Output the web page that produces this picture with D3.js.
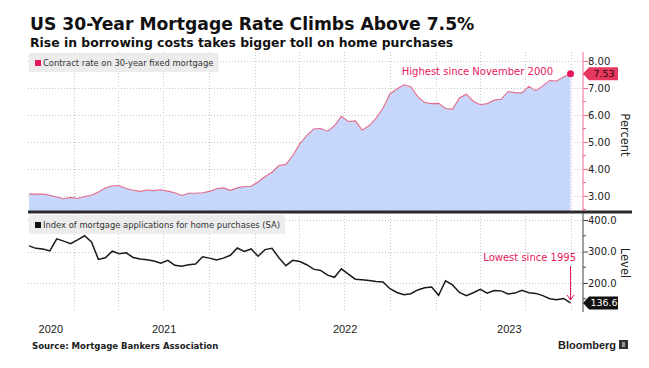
<!DOCTYPE html>
<html><head><meta charset="utf-8">
<script src="https://cdn.jsdelivr.net/npm/d3@7"></script>
<style>body{margin:0;background:#fff}svg{display:block}</style>
</head><body>
<svg id="c" width="649" height="368"></svg>
<script>
// ---- data (biweekly, Oct 2020 – Sep 2023) ----
const startDate = "2020-10-03";
const rateValues = [3.07,3.07,3.07,3.03,2.96,2.90,2.95,2.91,2.98,3.03,
  3.15,3.30,3.38,3.38,3.28,3.21,3.17,3.22,3.20,3.23,
  3.18,3.12,3.02,3.10,3.10,3.12,3.17,3.27,3.30,3.21,
  3.30,3.35,3.36,3.52,3.72,3.88,4.13,4.17,4.50,4.93,
  5.24,5.48,5.50,5.40,5.60,5.95,5.76,5.78,5.44,5.60,
  5.88,6.26,6.78,6.96,7.12,7.05,6.68,6.46,6.42,6.43,
  6.24,6.21,6.63,6.77,6.51,6.38,6.42,6.55,6.58,6.87,
  6.83,6.82,7.06,6.90,7.08,7.28,7.26,7.41,7.53];
const indexValues = [318,310,308,302,340,333,325,337,350,330,
  275,280,301,293,296,281,276,274,270,263,
  272,256,253,258,260,283,279,273,279,288,
  311,300,308,285,306,310,280,255,272,268,
  258,244,240,225,218,245,228,212,210,208,
  205,203,182,170,163,166,178,185,187,161,
  207,194,170,160,169,180,168,176,175,165,
  168,177,169,167,160,150,147,151,136.6];
const yearLabels = ["2020","2021","2022","2023"];
const rateTicks = [3,4,5,6,7,8];
const indexTicks = [200,300,400];
const rateName = "Contract rate on 30-year fixed mortgage";
const indexName = "Index of mortgage applications for home purchases (SA)";

const svg = d3.select("#c");
const PINK = "#e8175d";
const L = 28, R = 583;
const topY0 = 52, topY1 = 211, botY0 = 213, botY1 = 312;

const parse = d3.timeParse("%Y-%m-%d");
const d0 = parse(startDate);
const dates = rateValues.map((_, i) => d3.timeDay.offset(d0, 14 * i));
const rate = dates.map((d, i) => ({d, v: rateValues[i]}));
const idx = dates.map((d, i) => ({d, v: indexValues[i]}));

const x = d3.scaleTime().domain([new Date(2020, 9, 1), new Date(2023, 9, 1)]).range([L, 571]);
const yT = d3.scaleLinear().domain([3, 8]).range([196, 61]);
const yB = d3.scaleLinear().domain([200, 400]).range([283, 220]);

// titles
svg.append("text").attr("x", 30).attr("y", 30)
  .attr("font-family", "DejaVu Sans").attr("font-weight", "bold").attr("font-size", 17.2)
  .attr("fill", "#111").text("US 30-Year Mortgage Rate Climbs Above 7.5%");
svg.append("text").attr("x", 30).attr("y", 47)
  .attr("font-family", "DejaVu Sans").attr("font-weight", "bold").attr("font-size", 12.4)
  .attr("fill", "#111").text("Rise in borrowing costs takes bigger toll on home purchases");

// grids
const gridDates = x.ticks(d3.timeMonth.every(3)).filter(d => x(d) > L + 1 && x(d) <= R);
const grid = svg.append("g").attr("stroke", "#c8c8c8").attr("stroke-dasharray", "1,2").attr("stroke-width", 1);
gridDates.forEach(d => {
  grid.append("line").attr("x1", Math.round(x(d)) + 0.5).attr("x2", Math.round(x(d)) + 0.5).attr("y1", topY0).attr("y2", topY1);
  grid.append("line").attr("x1", Math.round(x(d)) + 0.5).attr("x2", Math.round(x(d)) + 0.5).attr("y1", botY0).attr("y2", botY1);
});
rateTicks.forEach(t => grid.append("line").attr("x1", L).attr("x2", R).attr("y1", Math.round(yT(t)) + 0.5).attr("y2", Math.round(yT(t)) + 0.5));
indexTicks.forEach(t => grid.append("line").attr("x1", L).attr("x2", R).attr("y1", Math.round(yB(t)) + 0.5).attr("y2", Math.round(yB(t)) + 0.5));

// top area + line
svg.append("path").datum(rate)
  .attr("d", d3.area().x(d => x(d.d)).y0(topY1).y1(d => yT(d.v)))
  .attr("fill", "#c7d7fb");
svg.append("path").datum(rate)
  .attr("d", d3.line().x(d => x(d.d)).y(d => yT(d.v)))
  .attr("fill", "none").attr("stroke", "#e56b8a").attr("stroke-width", 1.1);

// bottom line
svg.append("path").datum(idx)
  .attr("d", d3.line().x(d => x(d.d)).y(d => yB(d.v)))
  .attr("fill", "none").attr("stroke", "#1a1a1a").attr("stroke-width", 1.5);

// legends
function legend(y, color, label) {
  const g = svg.append("g");
  const t = g.append("text").attr("x", 43).attr("y", y + 13)
    .attr("font-family", "DejaVu Sans").attr("font-size", 8.4).attr("fill", "#333").text(label);
  const w = t.node().getComputedTextLength();
  g.insert("rect", "text").attr("x", 29).attr("y", y).attr("width", w + 19).attr("height", 19).attr("fill", "#ececec");
  g.append("rect").attr("x", 35).attr("y", y + 7).attr("width", 6).attr("height", 6).attr("fill", color);
}
legend(53, PINK, rateName);
legend(215, "#111", indexName);

// separator
svg.append("rect").attr("x", L).attr("y", 210.5).attr("width", 632 - L).attr("height", 3).attr("fill", "#2a2a2a");

// right axes
const axT = d3.axisRight(yT).tickValues(rateTicks).tickSize(5).tickFormat(d3.format(".2f"));
const gT = svg.append("g").attr("transform", `translate(${R},0)`).call(axT);
gT.select(".domain").remove();
gT.append("line").attr("x1", 0).attr("x2", 0).attr("y1", topY0).attr("y2", topY1).attr("stroke", "#f06a8c");
gT.selectAll(".tick line").attr("stroke", "#f06a8c");
d3.range(2.5, 8.01, 1).forEach(v => gT.append("line").attr("x1", 0).attr("x2", 3).attr("y1", yT(v)).attr("y2", yT(v)).attr("stroke", "#f06a8c"));
gT.selectAll(".tick text").attr("font-family", "DejaVu Sans").attr("font-size", 10).attr("fill", "#222").attr("x", 5);

const axB = d3.axisRight(yB).tickValues(indexTicks).tickSize(5).tickFormat(d3.format(".1f"));
const gB = svg.append("g").attr("transform", `translate(${R},0)`).call(axB);
gB.select(".domain").remove();
gB.append("line").attr("x1", 0).attr("x2", 0).attr("y1", botY0).attr("y2", botY1).attr("stroke", "#444");
gB.selectAll(".tick line").attr("stroke", "#444");
[150, 250, 350].forEach(v => gB.append("line").attr("x1", 0).attr("x2", 3).attr("y1", yB(v)).attr("y2", yB(v)).attr("stroke", "#444"));
gB.selectAll(".tick text").attr("font-family", "DejaVu Sans").attr("font-size", 10).attr("fill", "#222").attr("x", 5);

// axis titles
svg.append("text").attr("transform", "translate(621,135) rotate(90)").attr("text-anchor", "middle")
  .attr("font-family", "DejaVu Sans").attr("font-size", 11.5).attr("fill", "#222").text("Percent");
svg.append("text").attr("transform", "translate(621,263) rotate(90)").attr("text-anchor", "middle")
  .attr("font-family", "DejaVu Sans").attr("font-size", 11.5).attr("fill", "#222").text("Level");

// last-value tags
function tag(yv, fill, color, label) {
  svg.append("path").attr("d", `M${R},${yv} L${R + 6},${yv - 6.5} L${R + 35},${yv - 6.5} L${R + 35},${yv + 6.5} L${R + 6},${yv + 6.5} Z`).attr("fill", fill);
  svg.append("text").attr("x", R + 21).attr("y", yv + 3.5).attr("text-anchor", "middle")
    .attr("font-family", "DejaVu Sans").attr("font-size", 9.5).attr("fill", color).text(label);
}
const lastR = rate[rate.length - 1], lastI = idx[idx.length - 1];
tag(yT(lastR.v), "#e8375f", "#2a0a10", d3.format(".2f")(lastR.v));
tag(yB(lastI.v), "#111", "#fff", d3.format(".1f")(lastI.v));

// annotations
svg.append("circle").attr("cx", x(lastR.d)).attr("cy", yT(lastR.v)).attr("r", 3.5).attr("fill", PINK);
svg.append("text").attr("x", 553).attr("y", 75).attr("text-anchor", "end")
  .attr("font-family", "DejaVu Sans").attr("font-size", 10).attr("fill", PINK).text("Highest since November 2000");
svg.append("text").attr("x", 576).attr("y", 261).attr("text-anchor", "end")
  .attr("font-family", "DejaVu Sans").attr("font-size", 10).attr("fill", PINK).text("Lowest since 1995");
const ax = x(lastI.d);
svg.append("line").attr("x1", ax).attr("x2", ax).attr("y1", 266).attr("y2", yB(lastI.v) - 3).attr("stroke", PINK).attr("stroke-width", 1);
svg.append("path").attr("d", `M${ax - 3.5},${yB(lastI.v) - 8} L${ax},${yB(lastI.v) - 3} L${ax + 3.5},${yB(lastI.v) - 8}`)
  .attr("fill", "none").attr("stroke", PINK).attr("stroke-width", 1);

// year labels centred in visible span of each year
yearLabels.forEach(y => {
  const a = Math.max(x(new Date(+y, 0, 1)), L);
  const b = Math.min(x(new Date(+y + 1, 0, 1)), R);
  svg.append("text").attr("x", (a + b) / 2).attr("y", 333).attr("text-anchor", "middle")
    .attr("font-family", "Liberation Sans").attr("font-size", 11).attr("fill", "#222").text(y);
});

// footer
svg.append("text").attr("x", 32).attr("y", 349)
  .attr("font-family", "DejaVu Sans Condensed, DejaVu Sans").attr("font-weight", "bold").attr("font-size", 9.5)
  .attr("fill", "#222").text("Source: Mortgage Bankers Association");
svg.append("text").attr("x", 558).attr("y", 349)
  .attr("font-family", "Liberation Sans").attr("font-weight", "bold").attr("font-size", 11)
  .attr("fill", "#222").text("Bloomberg");
const lg = svg.append("g").attr("transform", "translate(619,340)");
lg.append("rect").attr("width", 9).attr("height", 9).attr("fill", "#333");
lg.append("rect").attr("x", 3).attr("y", 2).attr("width", 3).attr("height", 5).attr("fill", "#999");
</script>
</body></html>
